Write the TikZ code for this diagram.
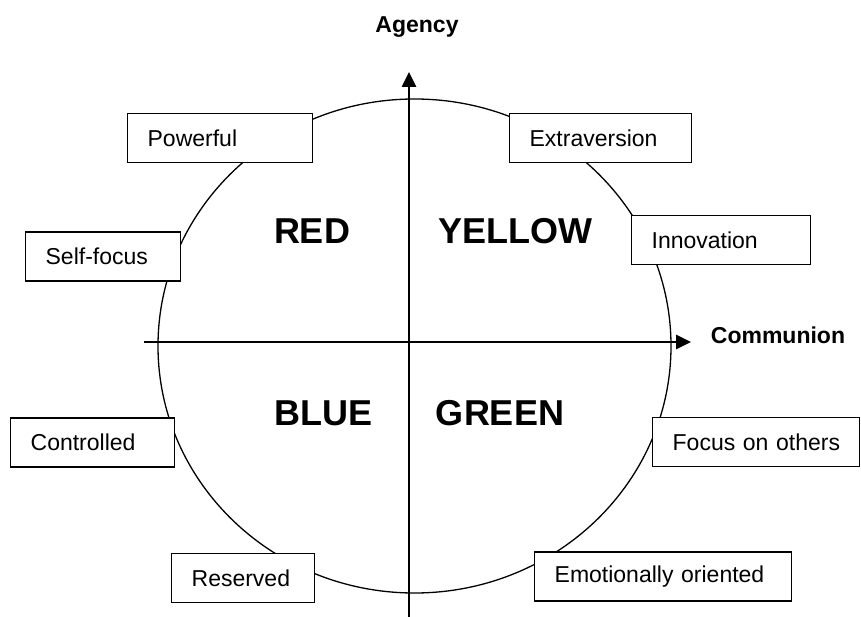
\documentclass[tikz,border=0pt]{standalone}
\usepackage{fontspec}
\setmainfont{Liberation Sans}
\usetikzlibrary{arrows.meta}

\begin{document}
\begin{tikzpicture}[x=1pt, y=-1pt,
    trait/.style={draw, line width=1.3pt, fill=white, anchor=west, align=left,
                  minimum height=49pt, inner xsep=20pt,
                  font=\fontsize{23}{27}\selectfont},
    colour/.style={font=\bfseries\fontsize{36}{40}\selectfont},
    axislabel/.style={font=\bfseries\fontsize{23}{27}\selectfont}]

\useasboundingbox (0,0) rectangle (861,617);

\draw[line width=1.3pt] (414.5,346) ellipse [x radius=256.5pt, y radius=247pt];

\begin{scope}[>={Triangle[length=15pt,width=14pt]}, line width=2.6pt]
    \coordinate (vbot) at (409, 617);
    \coordinate (vtop) at (409, 72);
    \coordinate (hleft) at (144, 342);
    \coordinate (hright) at (691, 342);

    \draw [->] (vbot) -- (vtop);
    \draw [->] (hleft) -- (hright);
\end{scope}

\node (agency) at (417, 27) [axislabel] {Agency};
\node (communion) at (778, 335.5) [axislabel] {Communion};

\node (red) at (312, 231.5) [colour] {RED};
\node (yellow) at (515, 231.5) [colour] {YELLOW};
\node (blue) at (323.5, 413) [colour] {BLUE};
\node (green) at (500, 413) [colour] {GREEN};

\begin{scope}[every node/.style={trait}]
    \node (powerful) at (127, 138) [text width=145pt] {Powerful};
    \node (selffocus) at (25, 256.5) [text width=115pt] {Self-focus};
    \node (extraversion) at (509, 138) [text width=142pt] {Extraversion};
    \node (innovation) at (631, 240) [text width=139pt] {Innovation};
    \node (controlled) at (10, 442.5) [text width=124pt] {Controlled};
    \node (reserved) at (171, 578) [text width=103pt] {Reserved};
    \node (others) at (652, 442) [text width=167pt] {\mbox{Focus on others}};
    \node (emotional) at (534, 576.5) [text width=217pt] {\mbox{Emotionally oriented}};
\end{scope}
\end{tikzpicture}
\end{document}
